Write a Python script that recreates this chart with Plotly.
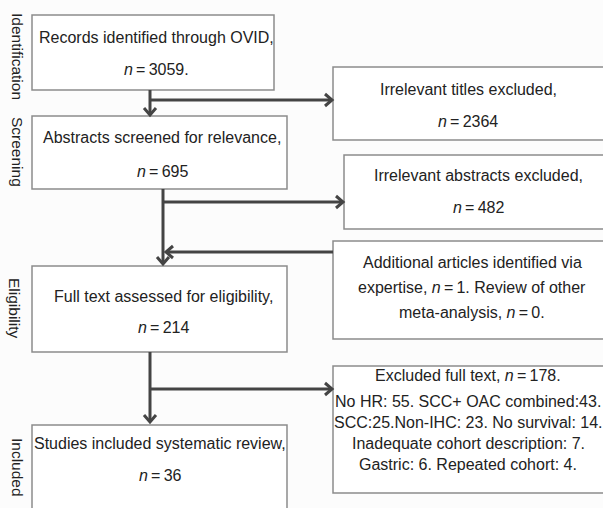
import plotly.graph_objects as go

# ---- data (text content) ----
stages = ["Identification", "Screening", "Eligibility", "Included"]
box_titles = [
    "Records identified through OVID,",
    "Irrelevant titles excluded,",
    "Abstracts screened for relevance,",
    "Irrelevant abstracts excluded,",
    "Full text assessed for eligibility,",
    "Studies included systematic review,",
]
box_counts = ["3059.", "2364", "695", "482", "214", "36"]
additional_lines = [
    "Additional articles identified via",
    "expertise, <i>n</i>\u2009=\u20091. Review of other",
    "meta-analysis, <i>n</i>\u2009=\u20090.",
]
excluded_lines = [
    "Excluded full text, <i>n</i>\u2009=\u2009178.",
    "No HR: 55. SCC+ OAC combined:43.",
    "SCC:25.Non-IHC: 23. No survival: 14.",
    "Inadequate cohort description: 7.",
    "Gastric: 6. Repeated cohort: 4.",
]

# ---- layout geometry (pixel space) ----
W, H = 603, 508
boxes = {  # x0, x1, y0, y1
    "b1": (32, 274, 15, 90),
    "b2": (333, 612, 67, 140),
    "b3": (32, 287, 116, 189),
    "b4": (344, 612, 155, 229),
    "b5": (333, 612, 241, 339),
    "b6": (32, 287, 266, 352),
    "b7": (333, 612, 366, 493),
    "b8": (32, 287, 425, 520),
}
# text placement: (box key, center x, y line1, y line2)
two_line = [
    ("b1", 156, 37, 69),
    ("b2", 468, 89, 121),
    ("b3", 162, 137, 171),
    ("b4", 478, 175, 207),
    ("b6", 163, 296, 327),
    ("b8", 160, 443, 475),
]
stage_pos = [(18, 56), (18, 152), (15, 308), (18, 467)]

LINE = "#444444"
BORDER = "#8c8c8c"
FONT = "Liberation Sans, Arial, sans-serif"
FS = 16

fig = go.Figure()
fig.add_trace(go.Scatter(x=[0, W], y=[0, H], mode="markers",
                         marker=dict(opacity=0), hoverinfo="skip", showlegend=False))

shapes = []
for k, (x0, x1, y0, y1) in boxes.items():
    shapes.append(dict(type="rect", x0=x0, x1=x1, y0=y0, y1=y1,
                       line=dict(color=BORDER, width=1.5), fillcolor="#ffffff", layer="below"))

def seg(xa, ya, xb, yb):
    shapes.append(dict(type="line", x0=xa, y0=ya, x1=xb, y1=yb,
                       line=dict(color=LINE, width=3)))

def chevron(x, y, d, s=6, l=7):
    if d == "down":
        p = f"M{x-s},{y-l} L{x},{y} L{x+s},{y-l}"
    elif d == "right":
        p = f"M{x-l},{y-s} L{x},{y} L{x-l},{y+s}"
    else:
        p = f"M{x+l},{y-s} L{x},{y} L{x+l},{y+s}"
    shapes.append(dict(type="path", path=p, line=dict(color=LINE, width=3)))

# connectors
seg(150, 90, 150, 114); chevron(150, 115, "down")
seg(150, 100, 331, 100); chevron(332, 100, "right")
seg(163, 189, 163, 262); chevron(163, 264, "down")
seg(163, 202, 342, 202); chevron(343, 202, "right")
seg(333, 252, 167, 252); chevron(166, 252, "left")
seg(150, 352, 150, 421); chevron(150, 422, "down")
seg(150, 389, 331, 389); chevron(332, 389, "right")

ann = []
def txt(x, y, t, angle=0, size=FS):
    ann.append(dict(x=x, y=y, text=t, showarrow=False, xanchor="center", yanchor="middle",
                    textangle=angle, font=dict(family=FONT, size=size, color="#222222")))

for (k, cx, y1, y2), title, cnt in zip(two_line, box_titles, box_counts):
    txt(cx, y1, title)
    txt(cx, y2, "<i>n</i>\u2009=\u2009" + cnt)

for y, t in zip([262, 287, 312], additional_lines):
    txt(472, y, t)
for y, t in zip([375, 401, 422, 443, 464], excluded_lines):
    txt(468, y, t)

for (x, y), s in zip(stage_pos, stages):
    txt(x, y, s, angle=90, size=15.5)

fig.update_layout(
    width=W, height=H, margin=dict(l=0, r=0, t=0, b=0),
    paper_bgcolor="#fcfcfc", plot_bgcolor="#fcfcfc",
    xaxis=dict(range=[0, W], visible=False, fixedrange=True),
    yaxis=dict(range=[H, 0], visible=False, fixedrange=True),
    shapes=shapes, annotations=ann, showlegend=False,
)
fig.write_html("out.html", config={"displayModeBar": False},
               post_script="document.body.style.margin='0';document.body.style.overflow='hidden';")
